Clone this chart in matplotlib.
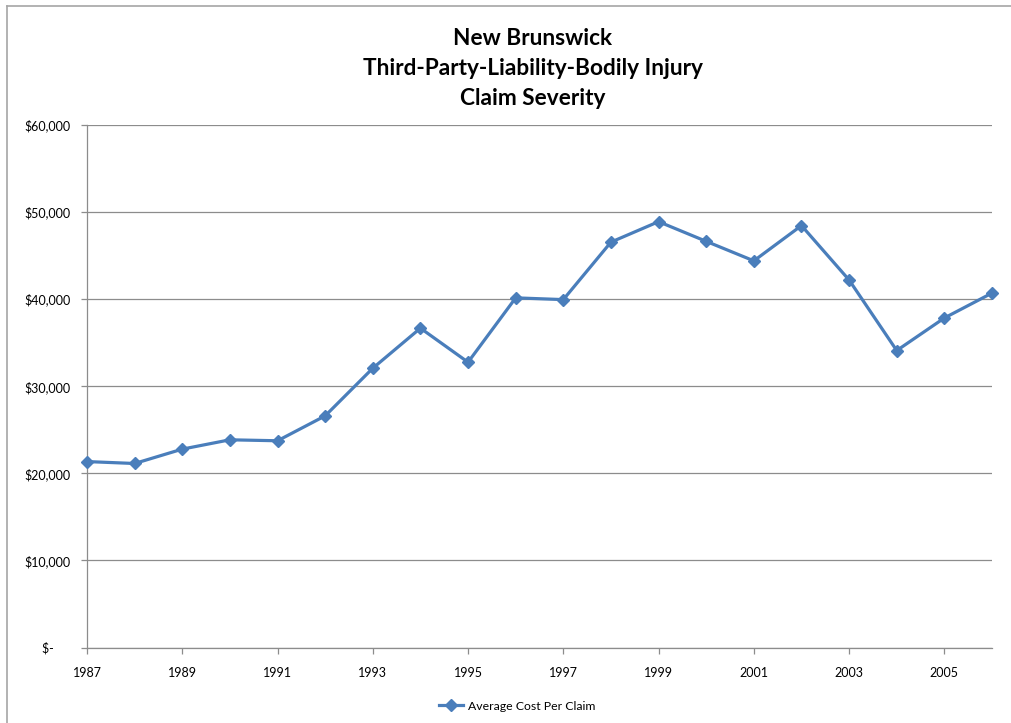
import matplotlib.pyplot as plt
from matplotlib.lines import Line2D
from matplotlib.ticker import FuncFormatter

years = list(range(1987, 2007))
avg_cost = [21350, 21130, 22780, 23850, 23740, 26600, 32070, 36670, 32760, 40150,
            39950, 46550, 48900, 46640, 44400, 48450, 42200, 34100, 37840, 40700]
y_ticks = [0, 10000, 20000, 30000, 40000, 50000, 60000]
x_ticks = [1987, 1989, 1991, 1993, 1995, 1997, 1999, 2001, 2003, 2005]

plt.rcParams['font.family'] = ['Lato', 'DejaVu Sans']

blue = '#4A7EBB'
grid_gray = '#8C8C8C'

fig = plt.figure(figsize=(10.11, 7.23), dpi=100)
ax = fig.add_axes([87 / 1011, 1 - 647.5 / 723, (992 - 87) / 1011, (647.5 - 125) / 723])

ax.plot(years, avg_cost, color=blue, linewidth=2.3, marker='D', markersize=6,
        markerfacecolor=blue, markeredgecolor=blue, label='Average Cost Per Claim',
        clip_on=False, zorder=3)

ax.set_xlim(1987, 2006)
ax.set_ylim(0, 60000)
ax.set_yticks(y_ticks)
ax.set_xticks(x_ticks)


def money(v, pos):
    if v == 0:
        return '$-     '
    return '${:,.0f}'.format(v)


ax.yaxis.set_major_formatter(FuncFormatter(money))
ax.grid(axis='y', color=grid_gray, linewidth=0.9)
ax.set_axisbelow(True)
for side in ['top', 'right']:
    ax.spines[side].set_visible(False)
for side in ['left', 'bottom']:
    ax.spines[side].set_color(grid_gray)
    ax.spines[side].set_linewidth(0.9)
ax.tick_params(axis='both', colors=grid_gray, labelcolor='black', labelsize=9,
               length=4, width=0.9, direction='out')
ax.tick_params(axis='x', pad=10)
ax.tick_params(axis='y', pad=8)

title_lines = ['New Brunswick', 'Third-Party-Liability-Bodily Injury', 'Claim Severity']
title_y = [0.9474, 0.9046, 0.8635]
for line, ty in zip(title_lines, title_y):
    fig.text(0.527, ty, line, ha='center', va='center', fontsize=16.3, fontweight='bold')

ax.legend(loc='center', bbox_to_anchor=(517 / 1011, 1 - 706 / 723),
          bbox_transform=fig.transFigure, frameon=False, fontsize=8.8,
          handlelength=2.0, handletextpad=0.4)

# chart area border (top and left edges visible)
fig.add_artist(Line2D([7 / 1011, 7 / 1011], [0, 1 - 6 / 723], color='#A6A6A6',
                      linewidth=1.2, transform=fig.transFigure))
fig.add_artist(Line2D([7 / 1011, 1], [1 - 6 / 723, 1 - 6 / 723], color='#A6A6A6',
                      linewidth=1.2, transform=fig.transFigure))

plt.savefig('out.png', dpi=100)
